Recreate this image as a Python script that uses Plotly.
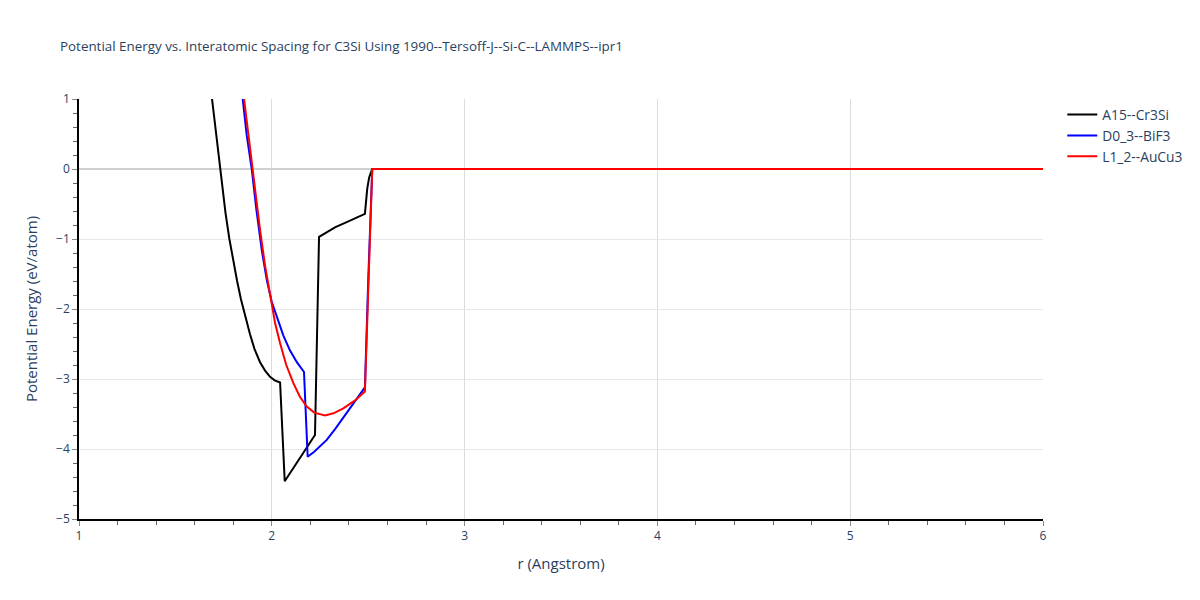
import plotly.graph_objects as go

# A15--Cr3Si
r_a15 = [1.69, 1.70, 1.72, 1.74, 1.76, 1.78, 1.80, 1.82, 1.84, 1.86, 1.887, 1.91, 1.939, 1.965, 1.991, 2.015, 2.043, 2.067, 2.10, 2.14, 2.18, 2.224, 2.245, 2.28, 2.33, 2.38, 2.43, 2.483, 2.495, 2.505, 2.521, 3.0, 4.0, 5.0, 6.0]
e_a15 = [1.0, 0.76, 0.26, -0.22, -0.63, -1.0, -1.32, -1.60, -1.86, -2.08, -2.36, -2.57, -2.76, -2.88, -2.97, -3.02, -3.05, -4.46, -4.32, -4.15, -3.98, -3.80, -0.97, -0.91, -0.83, -0.77, -0.71, -0.64, -0.28, -0.12, 0.0, 0.0, 0.0, 0.0, 0.0]

# D0_3--BiF3
r_d03 = [1.849, 1.87, 1.896, 1.92, 1.948, 1.975, 2.0, 2.025, 2.06, 2.094, 2.13, 2.167, 2.186, 2.22, 2.25, 2.285, 2.33, 2.388, 2.44, 2.483, 2.50, 2.521, 3.0, 4.0, 5.0, 6.0]
e_d03 = [1.0, 0.48, 0.0, -0.58, -1.16, -1.60, -1.90, -2.11, -2.38, -2.59, -2.76, -2.90, -4.11, -4.04, -3.96, -3.87, -3.71, -3.49, -3.30, -3.12, -1.60, 0.0, 0.0, 0.0, 0.0, 0.0]

# L1_2--AuCu3
r_l12 = [1.856, 1.878, 1.90, 1.92, 1.939, 1.965, 1.991, 2.017, 2.043, 2.075, 2.112, 2.145, 2.18, 2.22, 2.276, 2.32, 2.371, 2.43, 2.483, 2.50, 2.521, 3.0, 4.0, 5.0, 6.0]
e_l12 = [1.0, 0.50, 0.0, -0.45, -0.87, -1.38, -1.82, -2.20, -2.49, -2.80, -3.06, -3.25, -3.39, -3.48, -3.52, -3.49, -3.42, -3.31, -3.18, -1.60, 0.0, 0.0, 0.0, 0.0, 0.0]

names = ["A15--Cr3Si", "D0_3--BiF3", "L1_2--AuCu3"]
colors = ["black", "blue", "red"]

fig = go.Figure()
for name, xs, ys, c in zip(names, [r_a15, r_d03, r_l12], [e_a15, e_d03, e_l12], colors):
    fig.add_trace(go.Scatter(x=xs, y=ys, mode="lines", name=name,
                             line=dict(color=c, width=2)))

fig.update_layout(
    width=1200, height=600,
    title=dict(text="Potential Energy vs. Interatomic Spacing for C3Si Using 1990--Tersoff-J--Si-C--LAMMPS--ipr1",
               font=dict(size=13.4), x=0.05, y=0.93),
    plot_bgcolor="white", paper_bgcolor="white",
    margin=dict(l=79, r=157, t=99, b=81),
    legend=dict(font=dict(size=13.8)),
)
fig.update_xaxes(range=[1, 6], title=dict(text="r (Angstrom)", font=dict(size=15)),
                 showline=True, linecolor="black", linewidth=1.5,
                 ticks="outside", tickcolor="#888", dtick=1,
                 showgrid=True, gridcolor="#dcdcdc", zeroline=False,
                 minor=dict(ticks="outside", dtick=0.2, tickcolor="#666", ticklen=4, showgrid=False))
fig.update_yaxes(range=[-5, 1], title=dict(text="Potential Energy (eV/atom)", font=dict(size=15)),
                 showline=True, linecolor="black", linewidth=1.5,
                 ticks="outside", tickcolor="#888", dtick=1,
                 showgrid=True, gridcolor="#e8e8e8", zeroline=True, zerolinecolor="#d0d0d0", zerolinewidth=2,
                 minor=dict(ticks="outside", dtick=0.2, tickcolor="#666", ticklen=4, showgrid=False))

fig.write_html("out.html", config={"displayModeBar": False},
               post_script="document.body.style.margin='0';")
